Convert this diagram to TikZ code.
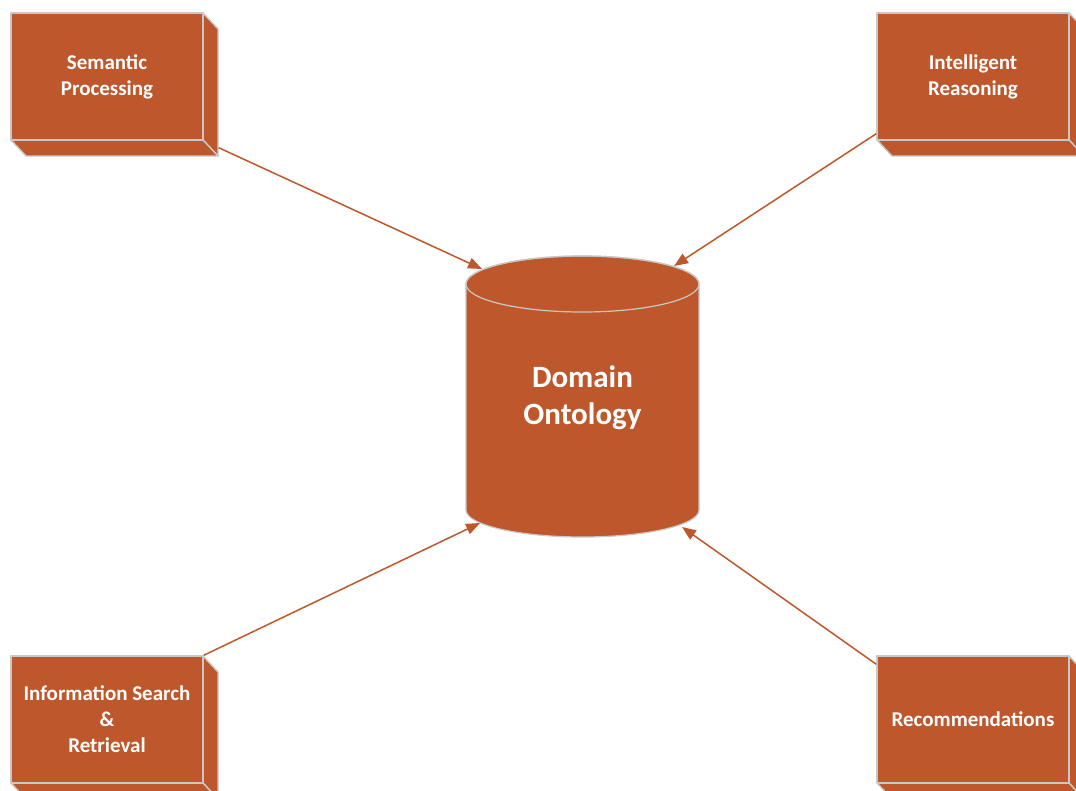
\documentclass[tikz,border=0pt]{standalone}
\usepackage{fontspec}
\setmainfont{Carlito}
\usetikzlibrary{arrows.meta,calc}

\definecolor{rust}{RGB}{190,88,44}
\definecolor{edge}{RGB}{200,200,200}

\tikzset{
  face/.style={fill=rust, draw=edge, line width=1.4pt, line join=round},
  frontbox/.style={face, rectangle, minimum width=192pt, minimum height=127pt,
    inner sep=0pt, text=white, align=center,
    font=\fontsize{21pt}{26pt}\selectfont\bfseries},
  dbtext/.style={text=white, align=center, inner sep=0pt,
    font=\fontsize{31pt}{37pt}\selectfont\bfseries},
  link/.style={draw=rust, line width=1.5pt,
    -{Triangle[length=14pt,width=11pt]}},
}

% 3-D block: side and bottom faces behind a named front face
\newcommand{\block}[3]{%
  \path (#2) coordinate (tmp);
  \filldraw[face] ($(tmp)+(96,-63.5)$) -- ++(15,16) -- ++(0,127) -- ++(-15,-16) -- cycle;
  \filldraw[face] ($(tmp)+(-96,63.5)$) -- ++(192,0) -- ++(15,16) -- ++(-192,0) -- cycle;
  \node[frontbox] (#1) at (tmp) {#3};
}

\begin{document}
\begin{tikzpicture}[x=1pt,y=-1pt]
  \fill[white] (0,0) rectangle (1076,791);
  \useasboundingbox (0,0) rectangle (1076,791);

  % four blocks
  \block{sp}{107,76.5}{Semantic\\Processing}
  \block{ir}{973,76.5}{Intelligent\\Reasoning}
  \block{isr}{107,719.5}{Information Search\\\&\\Retrieval}
  \block{rec}{973,719.5}{Recommendations}

  % central database cylinder
  \filldraw[face, line width=1.2pt] (466,284) -- (466,510)
     arc[start angle=180, end angle=0, x radius=116.5, y radius=27]
     -- (699,284)
     arc[start angle=0, end angle=-180, x radius=116.5, y radius=28] -- cycle;
  \draw[edge, line width=1.2pt] (582.5,284) ellipse [x radius=116.5, y radius=28];
  \node[dbtext] (db) at (582.5,398) {Domain\\Ontology};

  % contact points on the cylinder
  \coordinate (dbA) at (482,269);
  \coordinate (dbB) at (674,266);
  \coordinate (dbC) at (480,523);
  \coordinate (dbD) at (682,527);

  % connectors
  \draw[link] ([shift={(15,7)}]sp.south east) -- (dbA);
  \draw[link] ([shift={(0,-7)}]ir.south west) -- (dbB);
  \draw[link] (isr.north east) -- (dbC);
  \draw[link] ([shift={(0,9)}]rec.north west) -- (dbD);
\end{tikzpicture}
\end{document}
